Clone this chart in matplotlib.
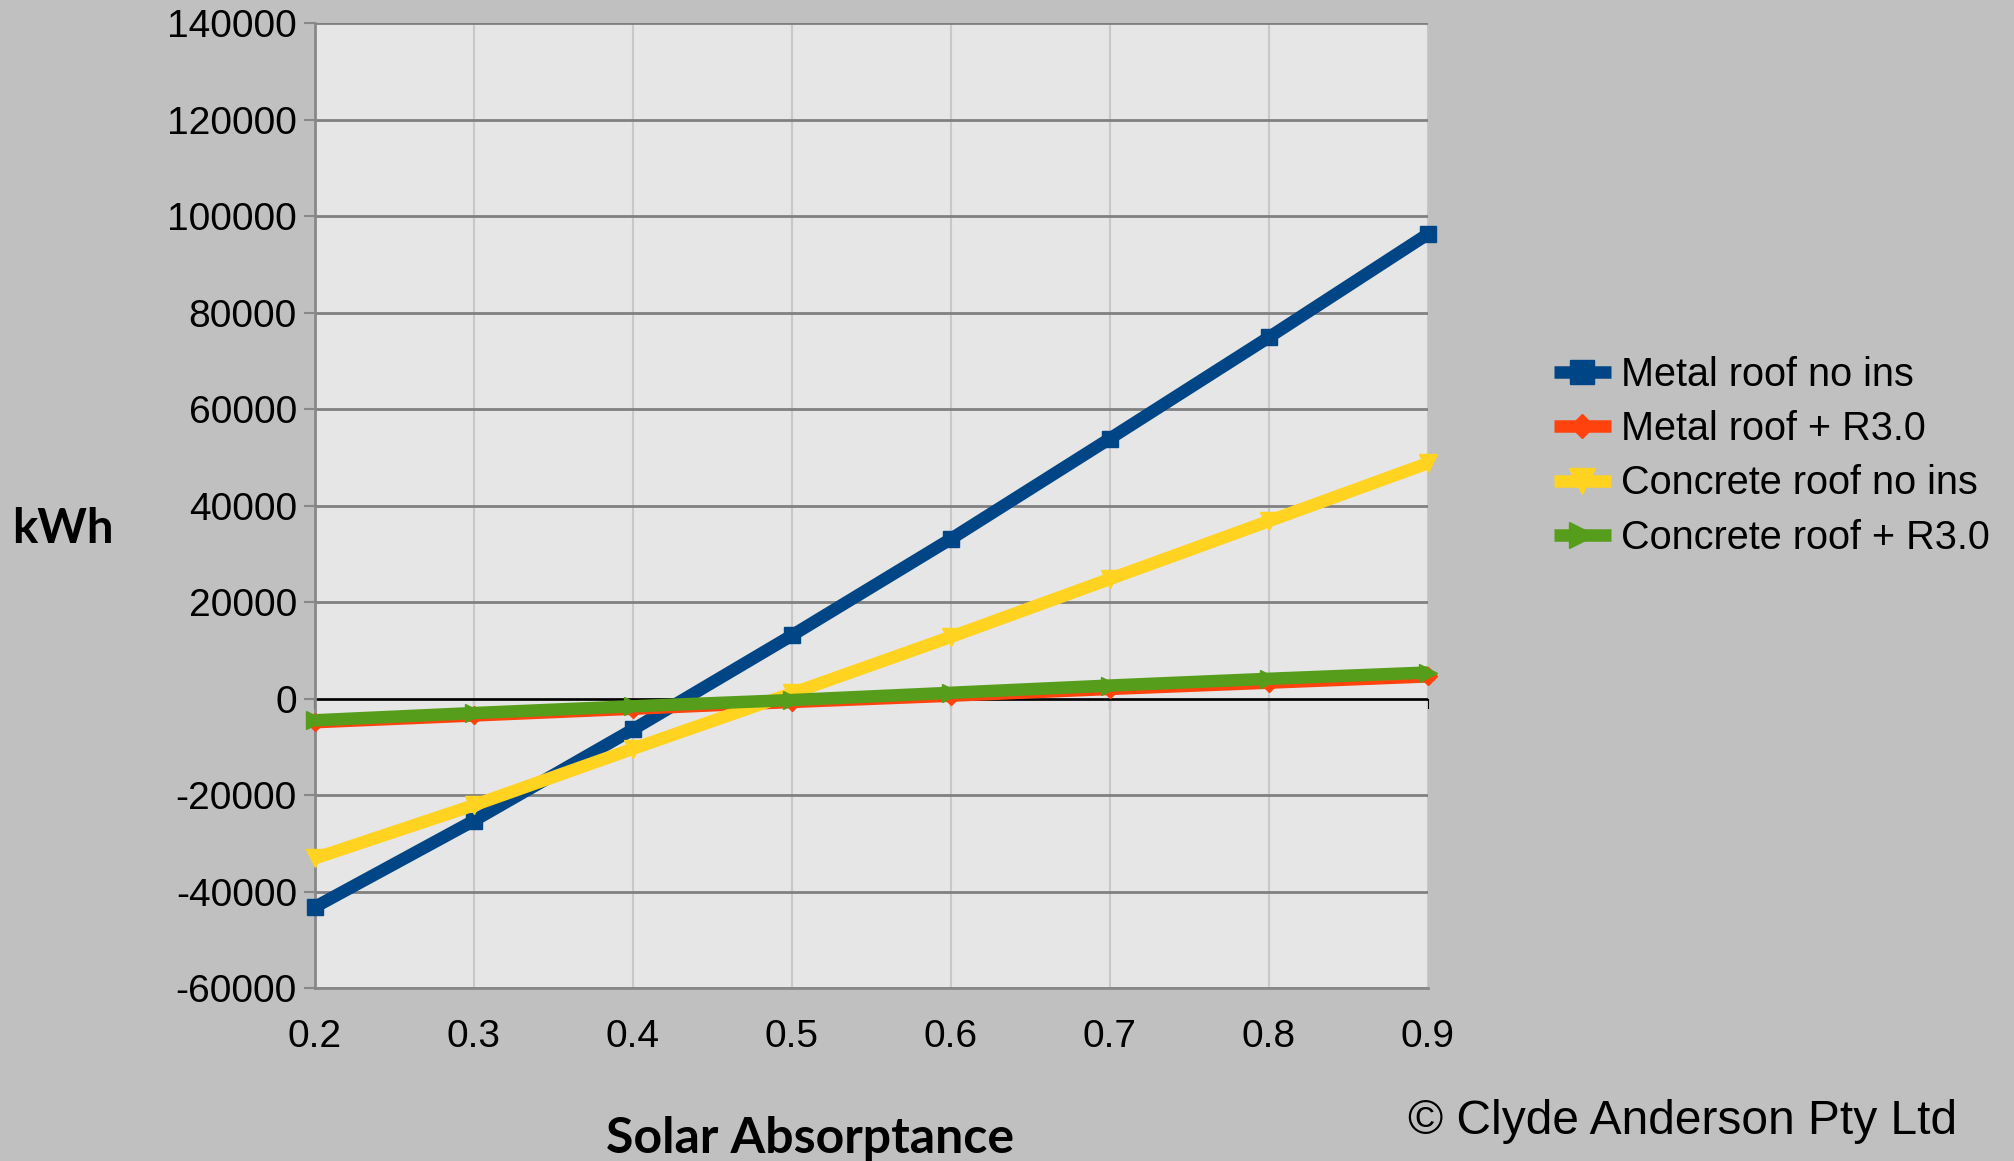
import matplotlib
matplotlib.use("Agg")
import matplotlib.pyplot as plt

# solar absorptance of the roof surface
absorptance = [0.2, 0.3, 0.4, 0.5, 0.6, 0.7, 0.8, 0.9]

# annual energy (kWh) for each roof build-up
metal_no_ins = [-43200, -25300, -6400, 13100, 33100, 53900, 74900, 96300]
metal_r30 = [-4900, -3500, -2100, -700, 600, 2000, 3300, 4600]
concrete_no_ins = [-33100, -22100, -10400, 1100, 12800, 24800, 36800, 48800]
concrete_r30 = [-4500, -3000, -1600, -300, 1200, 2700, 4100, 5400]

series = [
    ("Metal roof no ins", metal_no_ins, "#004586", "s", 12),
    ("Metal roof + R3.0", metal_r30, "#FF420E", "D", 9),
    ("Concrete roof no ins", concrete_no_ins, "#FFD320", "v", 13),
    ("Concrete roof + R3.0", concrete_r30, "#579D1C", ">", 13),
]

yticks = list(range(-60000, 140001, 20000))

plt.rcParams["font.family"] = ["Liberation Sans", "DejaVu Sans"]
plt.rcParams["axes.unicode_minus"] = False

fig = plt.figure(figsize=(20.14, 11.61), dpi=100, facecolor="#C0C0C0")
ax = fig.add_axes([0.1564, 0.149, 0.709 - 0.1564, 0.831])
ax.set_facecolor("#E6E6E6")

for label, vals, col, mk, ms in series:
    ax.plot(absorptance, vals, color=col, lw=9, marker=mk, ms=ms,
            label=label, clip_on=False, solid_capstyle="butt", zorder=3)

ax.set_xlim(0.2, 0.9)
ax.set_ylim(-60000, 140000)
ax.set_xticks(absorptance)
ax.set_yticks(yticks)

# grid: dark horizontals, light verticals
ax.yaxis.grid(True, color="#808080", lw=2)
ax.xaxis.grid(True, color="#C8C8C8", lw=1.5)
ax.set_axisbelow(True)

for side in ("top", "right"):
    ax.spines[side].set_visible(False)
for side in ("left", "bottom"):
    ax.spines[side].set_color("#888888")
    ax.spines[side].set_linewidth(2)

ax.tick_params(axis="y", direction="out", length=8, width=1.5, color="#888888",
               pad=5, labelsize=28)
ax.tick_params(axis="x", length=0, pad=22, labelsize=28)

# x axis line crossing at zero with its own tick marks
ax.axhline(0, color="black", lw=1.8, zorder=2)
zero_axis = ax.secondary_xaxis(0, transform=ax.transData)
zero_axis.set_xticks(absorptance)
zero_axis.set_xticklabels([])
zero_axis.tick_params(direction="out", length=7, width=1.5, color="black")
zero_axis.spines["bottom"].set_visible(False)

fig.text(0.006, 0.544, "kWh", fontsize=34, fontweight="bold",
         family=["Lato", "DejaVu Sans"], ha="left", va="center")
fig.text(0.402, 0.019, "Solar Absorptance", fontsize=36, fontweight="bold",
         family=["Lato", "DejaVu Sans"], ha="center", va="center")
fig.text(0.8355, 0.034, "\u00a9 Clyde Anderson Pty Ltd", fontsize=34.5,
         ha="center", va="center")

leg = fig.legend(loc="upper left", bbox_to_anchor=(0.7635, 0.707), frameon=False,
                 fontsize=28.5, handlelength=1.45, handletextpad=0.25,
                 labelspacing=0.41, borderaxespad=0, numpoints=1,
                 markerscale=1.4)

fig.savefig("out.png", dpi=100, facecolor=fig.get_facecolor())
